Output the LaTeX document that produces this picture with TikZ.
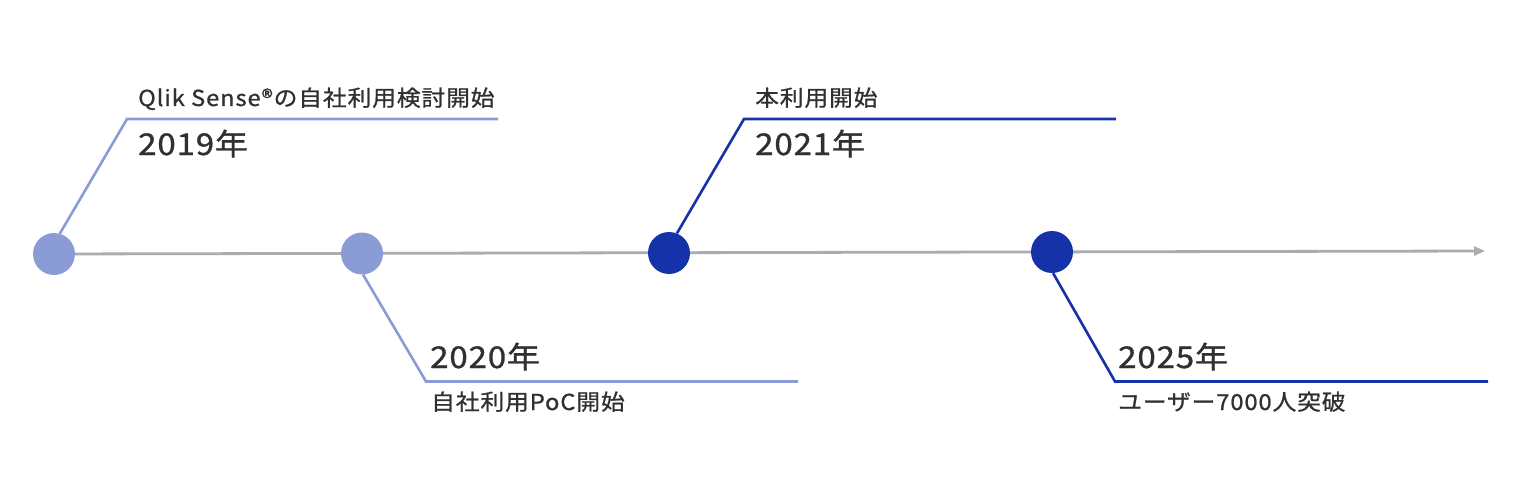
\documentclass[tikz,border=0pt]{standalone}
\usepackage{fontspec}
\setmainfont{Noto Sans CJK JP}
\usetikzlibrary{arrows.meta}
\definecolor{lightblue}{HTML}{8A9BD6}
\definecolor{darkblue}{HTML}{1532A8}
\definecolor{axisgray}{HTML}{ABABB0}
\definecolor{txt}{HTML}{303030}
\tikzset{
  dot/.style={circle,minimum size=42pt,inner sep=0pt,draw=none},
  leader/.style={line width=2.6pt},
  smalltxt/.style={anchor=base west,inner sep=0pt,text=txt,font=\fontsize{22}{26}\selectfont\addfontfeature{FakeStretch=1.08,FakeBold=0.9,LetterSpace=4}},
  yeartxt/.style={anchor=base west,inner sep=0pt,text=txt,font=\fontsize{30}{36}\selectfont\addfontfeature{FakeStretch=1.1,FakeBold=1.1,LetterSpace=3}},
}
\begin{document}
\begin{tikzpicture}[x=1pt,y=-1pt]
\useasboundingbox (0,0) rectangle (1520,484);
% axis
\coordinate (a0) at (54,254);
\coordinate (a1) at (1485,251);
\draw[axisgray,line width=2.8pt,-{Triangle[length=11pt,width=9pt]}] (a0) -- (a1);
% circles
\node[dot,fill=lightblue] (c1) at (54,254) {};
\node[dot,fill=lightblue] (c2) at (362,253.5) {};
\node[dot,fill=darkblue] (c3) at (669,253) {};
\node[dot,fill=darkblue] (c4) at (1052,252) {};
% knees and ends
\coordinate (k1) at (127,119);  \coordinate (e1) at (498,119);
\coordinate (k2) at (426,381.5);\coordinate (e2) at (798,381.5);
\coordinate (k3) at (744,119);  \coordinate (e3) at (1116,119);
\coordinate (k4) at (1115,381.5);\coordinate (e4) at (1488,381.5);
\draw[leader,lightblue] (c1.74) -- (k1) -- (e1);
\draw[leader,lightblue] (c2.-87) -- (k2) -- (e2);
\draw[leader,darkblue] (c3.68) -- (k3) -- (e3);
\draw[leader,darkblue] (c4.-87) -- (k4) -- (e4);
% texts
\node[smalltxt] (t1) at (138,106) {Qlik Sense®の自社利用検討開始};
\node[yeartxt] (y1) at (138,155) {2019年};
\node[smalltxt] (t3) at (755,106) {本利用開始};
\node[yeartxt] (y3) at (755,155) {2021年};
\node[yeartxt] (y2) at (430,368) {2020年};
\node[smalltxt] (t2) at (431,410) {自社利用PoC開始};
\node[yeartxt] (y4) at (1118,368) {2025年};
\node[smalltxt] (t4) at (1118,410) {ユーザー7000人突破};
\end{tikzpicture}
\end{document}
